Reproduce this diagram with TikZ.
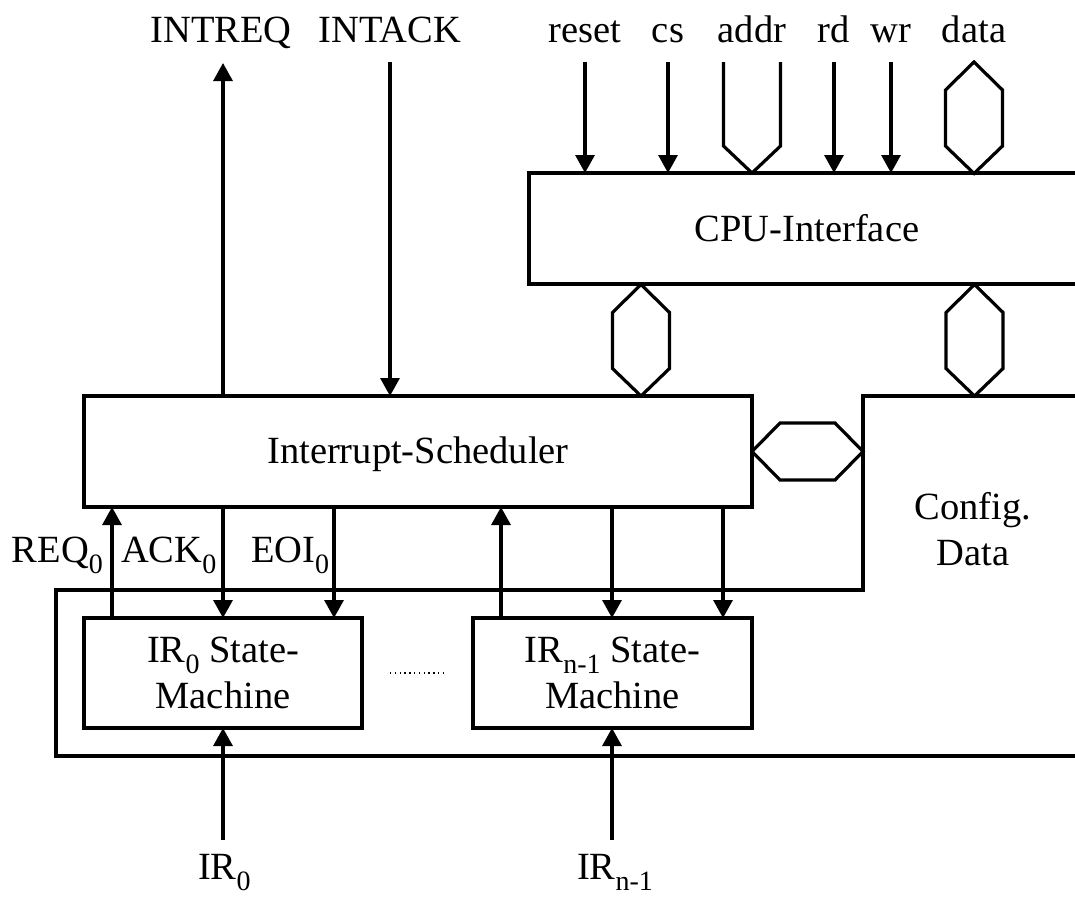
\documentclass[tikz,border=0pt]{standalone}
\usepackage{fontspec}
\setmainfont{Liberation Serif}
\usetikzlibrary{arrows.meta}
\newcommand\sbs[1]{\raisebox{-11pt}{\fontsize{28}{28}\selectfont #1}}
\begin{document}
\begin{tikzpicture}[x=1pt,y=-1pt,
  font=\fontsize{38.5}{46}\selectfont,
  every node/.style={inner sep=0pt,outer sep=0pt},
  line width=3.2pt,
  box/.style={draw,rectangle,align=center},
  arr/.style={-{Triangle[length=18pt,width=19pt]}},
  bus/.style={line join=miter},
  lbl/.style={anchor=base},
  vbus/.pic={\draw[line join=miter] (0,0) -- (28.5,28) -- (28.5,84) -- (0,111.5) -- (-28.5,84) -- (-28.5,28) -- cycle;}]
\useasboundingbox (0,0) rectangle (1075,897);
\clip (0,0) rectangle (1075,897);
% boxes
\node[box,minimum width=556pt,minimum height=111pt] (cpu) at (807,228.5) {CPU-Interface};
\node[box,minimum width=668pt,minimum height=111pt,text height=26pt,text depth=2pt] (sched) at (418,451.5) {Interrupt-Scheduler};
\node[box,minimum width=278pt,minimum height=110pt] (sm0) at (223,673) {IR\sbs{0} State-\\Machine};
\node[box,minimum width=279pt,minimum height=110pt] (sm1) at (612.5,673) {IR\sbs{n-1} State-\\Machine};
% config data / frame
\draw[line join=miter] (1085,396) -- (863,396) -- (863,590) -- (56,590) -- (56,756) -- (1085,756);
\node[align=center] (cfg) at (973,529) {Config.\\Data};
% top labels
\node[lbl] (lintreq) at (221,42) {INTREQ};
\node[lbl] (lintack) at (390,42) {INTACK};
\node[lbl] (lreset) at (585,42) {reset};
\node[lbl] (lcs) at (668,42) {cs};
\node[lbl] (laddr) at (752,42) {addr};
\node[lbl] (lrd) at (834,42) {rd};
\node[lbl] (lwr) at (891,42) {wr};
\node[lbl] (ldata) at (974,42) {data};
% INTREQ / INTACK
\coordinate (intreqT) at (223,63);
\coordinate (intackT) at (390,62);
\draw[arr] (sched.north -| intreqT) -- (intreqT);
\draw[arr] (intackT) -- (sched.north -| intackT);
% CPU inputs
\foreach \n/\x in {reset/585,cs/668,rd/834,wr/891}{
  \coordinate (\n T) at (\x,62);
  \draw[arr] (\n T) -- (cpu.north -| \n T);
}
\coordinate (addrT) at (752,62);
\draw[bus] (723.5,62) -- (723.5,146) -- (cpu.north -| addrT) -- (780.5,146) -- (780.5,62);
\pic at (974,62) {vbus};
% buses CPU <-> scheduler / config
\pic at (641,284.5) {vbus};
\pic at (974.5,284.5) {vbus};
\draw[bus] (sched.east) -- (780,423) -- (835,423) -- (863,451.5) -- (835,480) -- (780,480) -- cycle;
% scheduler <-> state machines
\coordinate (req0) at (112,0);
\coordinate (ack0) at (223,0);
\coordinate (eoi0) at (334,0);
\coordinate (req1) at (501,0);
\coordinate (ack1) at (612,0);
\coordinate (eoi1) at (723,0);
\draw[arr] (sm0.north -| req0) -- (sched.south -| req0);
\draw[arr] (sched.south -| ack0) -- (sm0.north -| ack0);
\draw[arr] (sched.south -| eoi0) -- (sm0.north -| eoi0);
\draw[arr] (sm1.north -| req1) -- (sched.south -| req1);
\draw[arr] (sched.south -| ack1) -- (sm1.north -| ack1);
\draw[arr] (sched.south -| eoi1) -- (sm1.north -| eoi1);
\node[anchor=base west] (lreq) at (12,562) {REQ\sbs{0}};
\node[anchor=base west] (lack) at (121,562) {ACK\sbs{0}};
\node[anchor=base west] (leoi) at (251,562) {EOI\sbs{0}};
% dots
\draw[line width=1.3pt,dash pattern=on 1.3pt off 3.5pt] (390,673) -- (443,673);
% IR inputs
\coordinate (ir0B) at (223,840);
\coordinate (ir1B) at (612,840);
\draw[arr] (ir0B) -- (sm0.south -| ir0B);
\draw[arr] (ir1B) -- (sm1.south -| ir1B);
\node[anchor=base west] (lir0) at (198,879) {IR\sbs{0}};
\node[anchor=base west] (lir1) at (577,879) {IR\sbs{n-1}};
\end{tikzpicture}
\end{document}
